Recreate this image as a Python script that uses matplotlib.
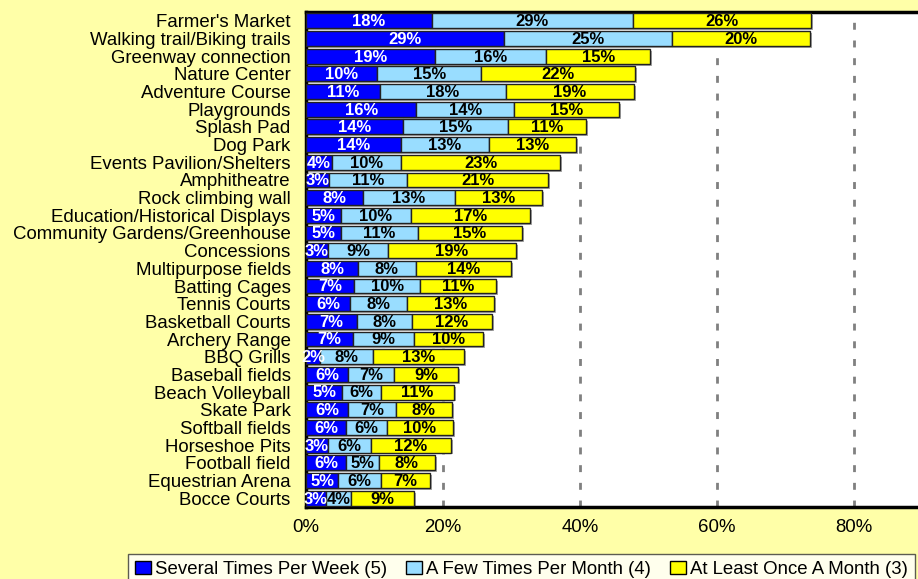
import matplotlib
matplotlib.use("Agg")
import matplotlib.pyplot as plt
import matplotlib.patches as mpatches
from matplotlib import font_manager
import numpy as np
import os

categories = [
    "Farmer's Market", "Walking trail/Biking trails", "Greenway connection",
    "Nature Center", "Adventure Course", "Playgrounds", "Splash Pad", "Dog Park",
    "Events Pavilion/Shelters", "Amphitheatre", "Rock climbing wall",
    "Education/Historical Displays", "Community Gardens/Greenhouse", "Concessions",
    "Multipurpose fields", "Batting Cages", "Tennis Courts", "Basketball Courts",
    "Archery Range", "BBQ Grills", "Baseball fields", "Beach Volleyball",
    "Skate Park", "Softball fields", "Horseshoe Pits", "Football field",
    "Equestrian Arena", "Bocce Courts",
]
several_week = [18.4, 28.9, 18.9, 10.4, 10.8, 16.1, 14.1, 13.8, 3.8, 3.4, 8.3,
                5.1, 5.1, 3.2, 7.6, 7.0, 6.4, 7.4, 6.8, 2.1, 6.1, 5.3, 6.1, 5.9,
                3.2, 5.9, 4.7, 2.9]
few_month = [29.3, 24.6, 16.2, 15.2, 18.4, 14.3, 15.4, 12.9, 10.1, 11.3, 13.4,
             10.2, 11.2, 8.8, 8.4, 9.7, 8.3, 8.1, 8.9, 7.7, 6.8, 5.6, 7.0, 5.9,
             6.3, 4.7, 6.3, 3.7]
once_month = [26.0, 20.1, 15.1, 22.4, 18.7, 15.3, 11.4, 12.7, 23.2, 20.7, 12.8,
              17.4, 15.2, 18.6, 13.9, 11.0, 12.7, 11.6, 10.1, 13.3, 9.3, 10.7,
              8.2, 9.6, 11.6, 8.2, 7.1, 9.1]
series_names = ["Several Times Per Week (5)", "A Few Times Per Month (4)",
                "At Least Once A Month (3)"]
x_ticks = [0, 20, 40, 60, 80]

colors = ["#0000FF", "#99DDFF", "#FFFF00"]
text_colors = ["white", "black", "black"]
bg = "#FFFFA8"

plt.rcParams['font.family'] = ['Liberation Sans', 'DejaVu Sans']

# bold font for bar labels: pick the regular-width Liberation Sans Bold file
bold_prop = None
for f in font_manager.findSystemFonts():
    if os.path.basename(f).lower() == "liberationsans-bold.ttf":
        bold_prop = font_manager.FontProperties(fname=f, size=12)
        break
if bold_prop is None:
    bold_prop = font_manager.FontProperties(family="Liberation Sans", weight="bold", size=12)

fig = plt.figure(figsize=(9.18, 5.79), dpi=100, facecolor=bg)
W, H = 918, 579
ax_left, ax_right, ax_top, ax_bottom = 306, 918, 12, 507
ax = fig.add_axes([ax_left / W, 1 - ax_bottom / H, (ax_right - ax_left) / W,
                   (ax_bottom - ax_top) / H])
ax.set_facecolor("white")

px_per_unit = 6.85
n = len(categories)
y = np.arange(n)
data = [several_week, few_month, once_month]
totals = np.sum(np.array(data), axis=0)

# drop shadow behind each bar
ax.barh(y + 0.11, totals, left=2 / px_per_unit, height=0.84, color="#A8A8A8",
        linewidth=0, zorder=2)

left = np.zeros(n)
for vals, c, tc, name in zip(data, colors, text_colors, series_names):
    vals = np.array(vals)
    ax.barh(y, vals, left=left, height=0.84, color=c, edgecolor="#222222",
            linewidth=1.0, label=name, zorder=3)
    for yi, (l, v) in enumerate(zip(left, vals)):
        ax.text(l + v / 2, yi + 0.05, f"{v:.0f}%", ha="center", va="center",
                color=tc, fontproperties=bold_prop, zorder=4, clip_on=False)
    left = left + vals

ax.set_ylim(n - 0.5, -0.5)
ax.set_xlim(0, (ax_right - ax_left) / px_per_unit)
ax.set_yticks(y)
ax.set_yticklabels(categories, fontsize=13.4)
ax.set_xticks(x_ticks)
ax.set_xticklabels([f"{t}%" for t in x_ticks], fontsize=13.4)
ax.tick_params(axis="y", length=0, pad=11)
ax.tick_params(axis="x", length=0, pad=9)

for t in x_ticks[1:]:
    ax.axvline(t, color="#808080", linestyle=(0, (2.5, 3.87)), linewidth=2, zorder=1)

for s in ["top", "left", "bottom"]:
    ax.spines[s].set_linewidth(2.5)
    ax.spines[s].set_color("black")
ax.spines["right"].set_visible(False)

handles = [mpatches.Patch(facecolor=c, edgecolor="black", linewidth=1.0) for c in colors]
leg = fig.legend(handles, series_names, loc="upper left",
                 bbox_to_anchor=(128 / W, 1 - 554 / H), ncol=3, fontsize=13.4,
                 frameon=True, fancybox=False, edgecolor="#333333",
                 handlelength=0.9, handleheight=0.75, handletextpad=0.2,
                 columnspacing=1.0, borderpad=0.35, borderaxespad=0)
leg.get_frame().set_facecolor("white")
leg.get_frame().set_linewidth(1.0)

fig.savefig("out.png", dpi=100, facecolor=bg)
